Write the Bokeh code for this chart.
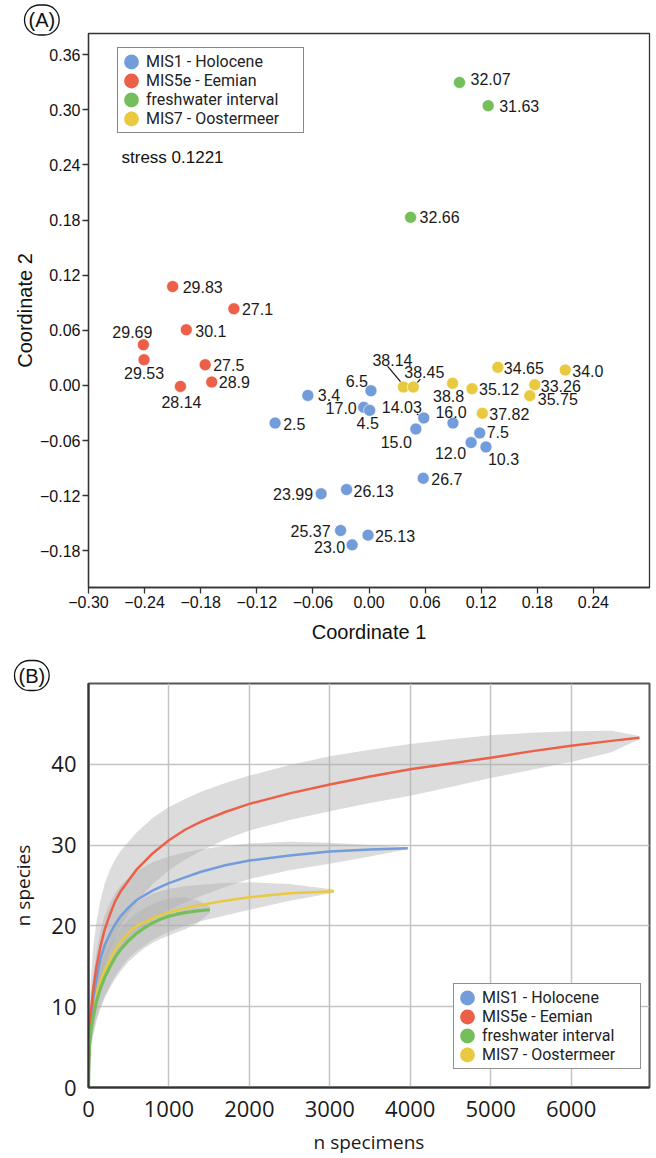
from bokeh.plotting import figure
from bokeh.models import (ColumnDataSource, Range1d, FixedTicker, CustomJSTickFormatter,
                          Label, Legend, LegendItem)
from bokeh.layouts import column
from bokeh.embed import file_html
from bokeh.resources import INLINE
from bokeh.core.properties import value

# ---------------- Panel A: NMDS ordination ----------------
group_names = ["MIS1 - Holocene", "MIS5e - Eemian", "freshwater interval", "MIS7 - Oostermeer"]
group_colors = ["#739cdb", "#ec604a", "#74bf5c", "#e8c940"]

holocene_labels = ["3.4", "2.5", "23.99", "6.5", "17.0", "4.5", "14.03", "15.0", "16.0",
                   "7.5", "12.0", "10.3", "26.7", "26.13", "25.37", "25.13", "23.0"]
holocene_x = [-0.0654, -0.1004, -0.0512, 0.0021, -0.0056, 0.0007, 0.0586, 0.0501, 0.0898,
              0.1184, 0.1092, 0.1251, 0.0580, -0.0240, -0.0304, -0.0010, -0.0180]
holocene_y = [-0.0109, -0.0410, -0.1180, -0.0058, -0.0239, -0.0272, -0.0355, -0.0475, -0.0410,
              -0.0518, -0.0623, -0.0670, -0.1011, -0.1134, -0.1580, -0.1630, -0.1736]

eemian_labels = ["29.83", "27.1", "30.1", "29.69", "29.53", "27.5", "28.9", "28.14"]
eemian_x = [-0.2100, -0.1445, -0.1954, -0.2413, -0.2406, -0.1752, -0.1682, -0.2017]
eemian_y = [0.1076, 0.0834, 0.0605, 0.0442, 0.0279, 0.0225, 0.0036, -0.0011]

fresh_labels = ["32.07", "31.63", "32.66"]
fresh_x = [0.0968, 0.1275, 0.0445]
fresh_y = [0.3297, 0.3044, 0.1829]

ooster_labels = ["38.14", "38.45", "38.8", "35.12", "34.65", "34.0", "33.26", "35.75", "37.82"]
ooster_x = [0.0368, 0.0474, 0.0894, 0.1102, 0.1378, 0.2099, 0.1773, 0.1720, 0.1212]
ooster_y = [-0.0018, -0.0018, 0.0022, -0.0036, 0.0196, 0.0167, 0.0007, -0.0112, -0.0304]

stress_text = "stress 0.1221"
a_x_ticks = [-0.30, -0.24, -0.18, -0.12, -0.06, 0.0, 0.06, 0.12, 0.18, 0.24]
a_y_ticks = [-0.18, -0.12, -0.06, 0.0, 0.06, 0.12, 0.18, 0.24, 0.30, 0.36]

# label placement (align, dx px, dy px downward)
label_place = {
    "29.83": ("left", 10, 0), "27.1": ("left", 8, 0), "30.1": ("left", 9, 1),
    "29.69": ("center", -11, -13), "29.53": ("center", 0, 13), "27.5": ("left", 8, 0),
    "28.9": ("left", 7, 0), "28.14": ("center", 1, 16),
    "3.4": ("left", 10, 0), "2.5": ("left", 8, 1), "23.99": ("right", -8, 0),
    "6.5": ("right", -3, -10), "17.0": ("right", -7, 1), "4.5": ("center", -2, 13),
    "14.03": ("right", -2, -11), "15.0": ("right", -4, 13), "16.0": ("center", -2, -11),
    "7.5": ("left", 7, -1), "12.0": ("right", -5, 10), "10.3": ("left", 2, 12),
    "26.7": ("left", 8, 1), "26.13": ("left", 7, 1), "25.37": ("right", -10, 0),
    "25.13": ("left", 7, 1), "23.0": ("right", -7, 2),
    "38.14": ("center", -11, -27), "38.45": ("center", 11, -15), "38.8": ("center", -4, 13),
    "35.12": ("left", 7, 0), "34.65": ("left", 6, 1), "34.0": ("left", 7, 1),
    "33.26": ("left", 6, 1), "35.75": ("left", 8, 3), "37.82": ("left", 7, 1),
    "32.07": ("left", 11, -3), "31.63": ("left", 11, 0), "32.66": ("left", 9, 0),
}
# leader lines (start dx, dy, end dx, dy) in px
leaders = {"14.03": (-7, -4, 0, 0), "38.14": (-16, -21, 0, -2), "38.45": (7, -8, 0, 0)}

A_W, A_H = 656, 650
A_LEFT, A_TOP, A_RIGHT, A_BOTTOM = 84, 33, 7, 63
ax_range = (-0.30, 0.30)
ay_range = (-0.22, 0.383)

pa = figure(width=A_W, height=A_H, x_range=Range1d(*ax_range), y_range=Range1d(*ay_range),
            output_backend="svg", toolbar_location=None, title="(A)",
            min_border_left=A_LEFT, min_border_top=A_TOP, min_border_right=A_RIGHT,
            min_border_bottom=A_BOTTOM)
pa.grid.visible = False
pa.outline_line_color = "#333333"
pa.outline_line_width = 1.3
fmt = CustomJSTickFormatter(code="return tick.toFixed(2).replace('-', '\\u2212');")
for ax, ticks in ((pa.xaxis[0], a_x_ticks), (pa.yaxis[0], a_y_ticks)):
    ax.ticker = FixedTicker(ticks=ticks)
    ax.formatter = fmt
    ax.axis_line_color = "#333333"
    ax.axis_line_width = 1.3
    ax.major_tick_in = 0
    ax.major_tick_out = 6
    ax.major_tick_line_color = "#333333"
    ax.major_tick_line_width = 1.3
    ax.minor_tick_line_color = None
    ax.major_label_text_font = "Liberation Sans"
    ax.major_label_text_font_size = "16px"
    ax.major_label_text_color = "#111111"
    ax.major_label_standoff = 2
    ax.axis_label_text_font = "Liberation Sans"
    ax.axis_label_text_font_size = "20px"
    ax.axis_label_text_font_style = "normal"
    ax.axis_label_text_color = "#111111"
pa.xaxis.axis_label = "Coordinate 1"
pa.yaxis.axis_label = "Coordinate 2"
pa.xaxis.axis_label_standoff = 10
pa.yaxis.axis_label_standoff = 1

ta = pa.title
ta.align = "left"
ta.offset = -64
ta.standoff = -3
ta.text_font = "Liberation Sans"
ta.text_font_size = "20px"
ta.text_font_style = "normal"
ta.text_color = "#111111"
ta.border_line_color = "#111111"
ta.border_line_width = 1.3
ta.border_radius = 17
ta.padding = 4

fw = A_W - A_LEFT - A_RIGHT
fh = A_H - A_TOP - A_BOTTOM
kx = (ax_range[1] - ax_range[0]) / fw
ky = (ay_range[1] - ay_range[0]) / fh

groups = [(holocene_labels, holocene_x, holocene_y),
          (eemian_labels, eemian_x, eemian_y),
          (fresh_labels, fresh_x, fresh_y),
          (ooster_labels, ooster_x, ooster_y)]

# leader lines
lx0, ly0, lx1, ly1 = [], [], [], []
for labs, xs, ys in groups:
    for lab, x, y in zip(labs, xs, ys):
        if lab in leaders:
            sdx, sdy, edx, edy = leaders[lab]
            lx0.append(x + sdx * kx); ly0.append(y - sdy * ky)
            lx1.append(x + edx * kx); ly1.append(y - edy * ky)
pa.segment(x0=lx0, y0=ly0, x1=lx1, y1=ly1, line_color="#111111", line_width=1.2)

legend_a_items = []
for (labs, xs, ys), name, col in zip(groups, group_names, group_colors):
    pa.scatter(x=xs, y=ys, size=12, fill_color=col, line_color="white", line_width=0.6)
    key = pa.scatter(x=xs[:1], y=ys[:1], size=11, fill_color=col, line_color=col,
                     line_width=8, visible=False)
    legend_a_items.append(LegendItem(label=name, renderers=[key]))

for align in ("left", "right", "center"):
    tx, ty, tt, tdx, tdy = [], [], [], [], []
    for labs, xs, ys in groups:
        for lab, x, y in zip(labs, xs, ys):
            al, dx, dy = label_place[lab]
            if al == align:
                tx.append(x); ty.append(y); tt.append(lab); tdx.append(dx); tdy.append(dy)
    src = ColumnDataSource(dict(x=tx, y=ty, text=tt, dx=tdx, dy=tdy))
    pa.text(x="x", y="y", text="text", x_offset="dx", y_offset="dy", source=src,
            text_align=align, text_baseline="middle", text_font=value("Liberation Sans"),
            text_font_size="16px", text_color="#1a1a1a")

pa.add_layout(Label(x=ax_range[0], y=ay_range[1], x_offset=33, y_offset=-124, text=stress_text,
                    text_font="Liberation Sans", text_font_size="17px", text_color="#111111",
                    text_baseline="middle", text_align="left"))

leg_a = Legend(items=legend_a_items, location=(29, 454), glyph_width=18, glyph_height=17,
               spacing=0, padding=4, label_standoff=6, label_width=153, label_height=17,
               label_text_font="Roboto", label_text_font_size="16px",
               label_text_color="#222222", border_line_color="#111111", border_line_width=1,
               background_fill_alpha=1)
pa.add_layout(leg_a)

# ---------------- Panel B: rarefaction curves ----------------
mis1_n = [0, 5, 15, 30, 60, 100, 150, 200, 270, 330, 400, 500, 600, 800, 1000, 1200, 1400,
          1700, 2000, 2500, 3000, 3500, 3970]
mis1_s = [0, 3, 6, 8.3, 11, 13.5, 16, 17.6, 19.1, 20.2, 21.2, 22.3, 23.2, 24.4, 25.3, 26.0,
          26.7, 27.5, 28.1, 28.7, 29.2, 29.45, 29.6]
mis1_lo = [0, 1.5, 4, 6, 8.3, 10.5, 12.6, 14, 15.4, 16.4, 17.4, 18.5, 19.4, 20.8, 22.0, 22.9,
           23.7, 24.8, 25.8, 26.9, 27.7, 28.6, 29.5]
mis1_hi = [0, 5, 8.5, 11, 14, 16.8, 19.5, 21.3, 22.9, 24.0, 25.0, 26.0, 26.8, 27.9, 28.6, 29.1,
           29.5, 29.9, 30.2, 30.4, 30.3, 30.0, 29.7]

mis5e_n = [0, 5, 15, 30, 60, 100, 150, 200, 270, 330, 400, 600, 800, 1000, 1200, 1400, 1700,
           2000, 2500, 3000, 3500, 4000, 4500, 5000, 5500, 6000, 6500, 6850]
mis5e_s = [0, 3, 6.5, 9.3, 12.3, 15, 17.5, 19.5, 21.5, 23, 24.3, 27.0, 29.0, 30.6, 31.9, 32.9,
           34.1, 35.1, 36.4, 37.5, 38.5, 39.4, 40.1, 40.8, 41.6, 42.3, 42.9, 43.3]
mis5e_lo = [0, 1.5, 4.5, 6.8, 9, 11.5, 13.5, 15.3, 17.2, 18.6, 20, 23.0, 25.2, 26.9, 28.2, 29.3,
            30.7, 31.8, 33.1, 34.2, 35.2, 36.1, 37.2, 38.3, 39.3, 40.3, 41.5, 43.1]
mis5e_hi = [0, 5.5, 10, 13.5, 17.5, 20.5, 23.2, 25.2, 27.0, 28.2, 29.3, 31.6, 33.4, 34.7, 35.7,
            36.6, 37.7, 38.6, 39.9, 41.0, 41.8, 42.5, 43.1, 43.6, 43.9, 44.1, 44.15, 43.5]

fresh_n = [0, 5, 15, 30, 60, 100, 150, 200, 270, 330, 400, 500, 600, 700, 800, 900, 1000,
           1100, 1200, 1350, 1510]
fresh_s = [0, 3.5, 5.5, 7, 8.8, 10.7, 12.3, 13.6, 15, 16.1, 17.1, 18.2, 19.1, 19.8, 20.4,
           20.85, 21.2, 21.45, 21.65, 21.85, 22.0]
fresh_lo = [0, 2, 3.5, 5, 6.5, 8.2, 9.8, 11, 12.4, 13.4, 14.4, 15.6, 16.5, 17.3, 17.9, 18.4,
            18.8, 19.2, 19.6, 20.3, 21.6]
fresh_hi = [0, 5, 7.5, 9, 11.2, 13.2, 14.8, 16.2, 17.6, 18.7, 19.7, 20.8, 21.6, 22.2, 22.7,
            23.1, 23.4, 23.5, 23.5, 23.2, 22.4]

mis7_n = [0, 5, 15, 30, 60, 100, 150, 200, 270, 330, 400, 500, 600, 800, 1000, 1200, 1400,
          1700, 2000, 2500, 3050]
mis7_s = [0, 3, 5.5, 7.5, 9.8, 11.7, 13.2, 14.4, 15.9, 17.0, 18.0, 19.2, 20.0, 21.0, 21.7,
          22.2, 22.6, 23.1, 23.55, 24.05, 24.3]
mis7_lo = [0, 1.5, 3.5, 5, 7, 8.7, 10.1, 11.3, 12.7, 13.8, 14.8, 16, 16.9, 18.3, 19.3, 20.0,
           20.6, 21.3, 22.0, 23.1, 24.1]
mis7_hi = [0, 4.5, 7.5, 10, 12.6, 14.7, 16.3, 17.6, 19.1, 20.1, 21.1, 22.2, 23.0, 24.0, 24.6,
           24.9, 25.1, 25.3, 25.4, 25.2, 24.5]

b_x_ticks = [0, 1000, 2000, 3000, 4000, 5000, 6000]
b_y_ticks = [0, 10, 20, 30, 40]

pb = figure(width=656, height=508, x_range=Range1d(0, 6975), y_range=Range1d(0, 50),
            output_backend="svg", toolbar_location=None, title="(B)",
            min_border_left=88, min_border_top=33, min_border_right=4, min_border_bottom=71)
pb.outline_line_color = "#555555"
pb.outline_line_width = 2
pb.xgrid.ticker = FixedTicker(ticks=b_x_ticks[1:])
pb.ygrid.ticker = FixedTicker(ticks=b_y_ticks[1:])
pb.grid.grid_line_color = "#c4c4c4"
pb.grid.grid_line_width = 1.5
for ax, ticks in ((pb.xaxis[0], b_x_ticks), (pb.yaxis[0], b_y_ticks)):
    ax.ticker = FixedTicker(ticks=ticks)
    ax.axis_line_color = "#333333"
    ax.axis_line_width = 2
    ax.major_tick_in = 0
    ax.major_tick_out = 0
    ax.minor_tick_line_color = None
    ax.major_label_text_font = "Open Sans"
    ax.major_label_text_font_size = "22px"
    ax.major_label_text_color = "#1a1a1a"
    ax.axis_label_text_font = "Open Sans"
    ax.axis_label_text_font_size = "19px"
    ax.axis_label_text_font_style = "normal"
    ax.axis_label_text_color = "#1a1a1a"
pb.xaxis.major_label_standoff = 13
pb.yaxis.major_label_standoff = 12
pb.xaxis.axis_label = "n specimens"
pb.yaxis.axis_label = "n species"
pb.xaxis.axis_label_standoff = 9
pb.yaxis.axis_label_standoff = 12

tb = pb.title
tb.align = "left"
tb.offset = -74
tb.standoff = -14
tb.text_font = "Liberation Sans"
tb.text_font_size = "20px"
tb.text_font_style = "normal"
tb.text_color = "#111111"
tb.border_line_color = "#111111"
tb.border_line_width = 1.3
tb.border_radius = 17
tb.padding = 4

series_b = [(mis1_n, mis1_s, mis1_lo, mis1_hi),
            (mis5e_n, mis5e_s, mis5e_lo, mis5e_hi),
            (fresh_n, fresh_s, fresh_lo, fresh_hi),
            (mis7_n, mis7_s, mis7_lo, mis7_hi)]
for n, s, lo, hi in series_b:
    pb.varea(x=n, y1=lo, y2=hi, fill_color="#adadad", fill_alpha=0.43)
line_widths = [2.5, 2.5, 3.2, 2.5]
for idx in (3, 0, 1, 2):
    n, s, lo, hi = series_b[idx]
    pb.line(x=n, y=s, line_color=group_colors[idx], line_width=line_widths[idx],
            line_join="round")

legend_b_items = []
for (n, s, lo, hi), name, col in zip(series_b, group_names, group_colors):
    key = pb.scatter(x=n[-1:], y=s[-1:], size=11, fill_color=col, line_color=col,
                     line_width=8, visible=False)
    legend_b_items.append(LegendItem(label=name, renderers=[key]))
leg_b = Legend(items=legend_b_items, location=(365, 18), glyph_width=18, glyph_height=17,
               spacing=0, padding=4, label_standoff=6, label_width=154, label_height=17,
               label_text_font="Roboto", label_text_font_size="16px",
               label_text_color="#222222", border_line_color="#222222", border_line_width=1.5,
               background_fill_alpha=1)
pb.add_layout(leg_b)

layout = column(pa, pb, spacing=0)
open("out.html", "w").write(file_html(layout, INLINE))
